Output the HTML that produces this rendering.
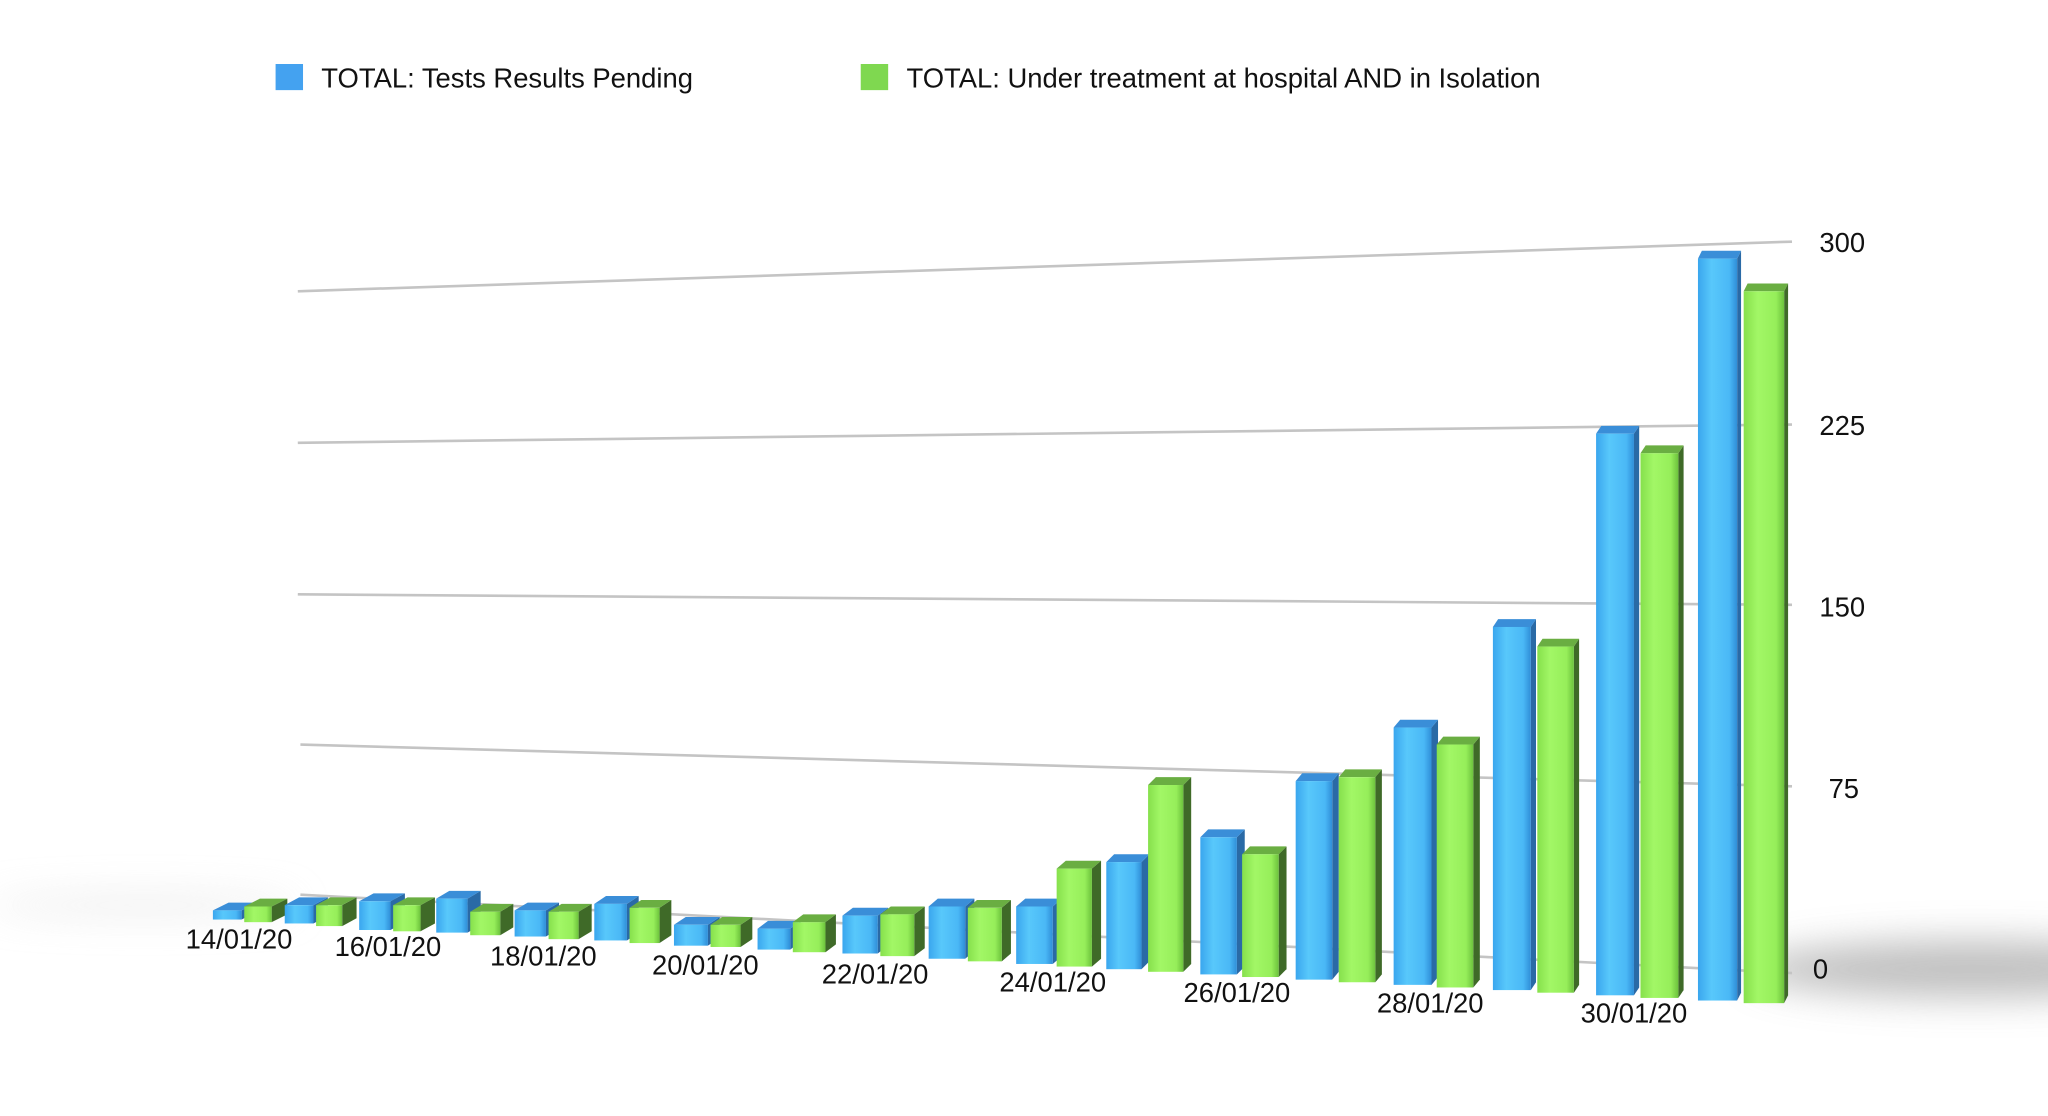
<!DOCTYPE html>
<html><head><meta charset="utf-8">
<style>
html,body{margin:0;padding:0;background:#fff;}
svg{display:block;}
text{font-family:"Liberation Sans",sans-serif;fill:#111;}
.bs{fill:#2a6aa6}.bt{fill:#3a8ed8}.bf{fill:url(#bfg)}
.gs{fill:#3f6a28}.gt{fill:#6aae42}.gf{fill:url(#gfg)}
</style></head>
<body>
<svg width="2048" height="1116" viewBox="0 0 1568 854.4" preserveAspectRatio="none" xmlns="http://www.w3.org/2000/svg">
<defs>
<linearGradient id="bfg" x1="0" x2="1" y1="0" y2="0">
<stop offset="0" stop-color="#3aa6ee"/><stop offset="0.35" stop-color="#58c8fb"/><stop offset="0.8" stop-color="#4ab8f6"/><stop offset="1" stop-color="#2f8ed8"/></linearGradient>
<linearGradient id="gfg" x1="0" x2="1" y1="0" y2="0">
<stop offset="0" stop-color="#86e04c"/><stop offset="0.35" stop-color="#a2f766"/><stop offset="0.8" stop-color="#96ee5a"/><stop offset="1" stop-color="#6cc23c"/></linearGradient>
<filter id="bl" x="-50%" y="-200%" width="200%" height="500%"><feGaussianBlur stdDeviation="14"/></filter>
</defs>
<ellipse cx="1510" cy="742" rx="170" ry="22" fill="#b0b0b0" filter="url(#bl)" opacity="0.8"/>
<ellipse cx="110" cy="693" rx="120" ry="8" fill="#e2e2e2" filter="url(#bl)" opacity="0.6"/>
<rect x="211" y="49" width="21" height="20" fill="#44a2f0"/>
<text x="246" y="67" font-size="21">TOTAL: Tests Results Pending</text>
<rect x="659" y="49" width="21" height="20" fill="#7fd850"/>
<text x="694" y="67" font-size="21">TOTAL: Under treatment at hospital AND in Isolation</text>
<g stroke="#c4c4c4" stroke-width="2">
<line x1="228" y1="223" x2="1372" y2="185"/>
<line x1="228" y1="339" x2="1372" y2="325"/>
<line x1="228" y1="455" x2="1372" y2="463"/>
<line x1="230" y1="570" x2="1372" y2="602"/>
<line x1="230" y1="685" x2="1372" y2="745"/>
</g>
<g font-size="21">
<text x="1393" y="193">300</text>
<text x="1393" y="333">225</text>
<text x="1393" y="472">150</text>
<text x="1400" y="611">75</text>
<text x="1388" y="749">0</text>
</g>
<g>
<polygon class="bs" points="185,697 197,691 197,698 185,704"/><polygon class="bt" points="163,697 175,691 197,691 185,697"/><rect class="bf" x="163" y="697" width="22" height="7"/>
<polygon class="gs" points="208,694 220,688 220,700 208,706"/><polygon class="gt" points="187,694 199,688 220,688 208,694"/><rect class="gf" x="187" y="694" width="21" height="12"/>
<polygon class="bs" points="240,693 251,687 251,701 240,707"/><polygon class="bt" points="218,693 229,687 251,687 240,693"/><rect class="bf" x="218" y="693" width="22" height="14"/>
<polygon class="gs" points="262,693 273,687 273,703 262,709"/><polygon class="gt" points="242,693 253,687 273,687 262,693"/><rect class="gf" x="242" y="693" width="20" height="16"/>
<polygon class="bs" points="299,690 310,684 310,706 299,712"/><polygon class="bt" points="275,690 286,684 310,684 299,690"/><rect class="bf" x="275" y="690" width="24" height="22"/>
<polygon class="gs" points="322,693 333,687 333,707 322,713"/><polygon class="gt" points="301,693 312,687 333,687 322,693"/><rect class="gf" x="301" y="693" width="21" height="20"/>
<polygon class="bs" points="358,688 368,682 368,708 358,714"/><polygon class="bt" points="334,688 344,682 368,682 358,688"/><rect class="bf" x="334" y="688" width="24" height="26"/>
<polygon class="gs" points="383,698 393,692 393,710 383,716"/><polygon class="gt" points="360,698 370,692 393,692 383,698"/><rect class="gf" x="360" y="698" width="23" height="18"/>
<polygon class="bs" points="418,697 428,691 428,711 418,717"/><polygon class="bt" points="394,697 404,691 428,691 418,697"/><rect class="bf" x="394" y="697" width="24" height="20"/>
<polygon class="gs" points="443,698 453,692 453,713 443,719"/><polygon class="gt" points="420,698 430,692 453,692 443,698"/><rect class="gf" x="420" y="698" width="23" height="21"/>
<polygon class="bs" points="480,692 489,686 489,714 480,720"/><polygon class="bt" points="455,692 464,686 489,686 480,692"/><rect class="bf" x="455" y="692" width="25" height="28"/>
<polygon class="gs" points="505,695 514,689 514,716 505,722"/><polygon class="gt" points="482,695 491,689 514,689 505,695"/><rect class="gf" x="482" y="695" width="23" height="27"/>
<polygon class="bs" points="542,708 551,702 551,718 542,724"/><polygon class="bt" points="516,708 525,702 551,702 542,708"/><rect class="bf" x="516" y="708" width="26" height="16"/>
<polygon class="gs" points="567,708 576,702 576,719 567,725"/><polygon class="gt" points="544,708 553,702 576,702 567,708"/><rect class="gf" x="544" y="708" width="23" height="17"/>
<polygon class="bs" points="605,711 613,705 613,721 605,727"/><polygon class="bt" points="580,711 588,705 613,705 605,711"/><rect class="bf" x="580" y="711" width="25" height="16"/>
<polygon class="gs" points="632,706 640,700 640,723 632,729"/><polygon class="gt" points="607,706 615,700 640,700 632,706"/><rect class="gf" x="607" y="706" width="25" height="23"/>
<polygon class="bs" points="672,701 680,695 680,724 672,730"/><polygon class="bt" points="645,701 653,695 680,695 672,701"/><rect class="bf" x="645" y="701" width="27" height="29"/>
<polygon class="gs" points="700,700 708,694 708,726 700,732"/><polygon class="gt" points="674,700 682,694 708,694 700,700"/><rect class="gf" x="674" y="700" width="26" height="32"/>
<polygon class="bs" points="739,694 746,688 746,728 739,734"/><polygon class="bt" points="711,694 718,688 746,688 739,694"/><rect class="bf" x="711" y="694" width="28" height="40"/>
<polygon class="gs" points="767,695 774,689 774,730 767,736"/><polygon class="gt" points="741,695 748,689 774,689 767,695"/><rect class="gf" x="741" y="695" width="26" height="41"/>
<polygon class="bs" points="806,694 813,688 813,732 806,738"/><polygon class="bt" points="778,694 785,688 813,688 806,694"/><rect class="bf" x="778" y="694" width="28" height="44"/>
<polygon class="gs" points="836,665 843,659 843,734 836,740"/><polygon class="gt" points="809,665 816,659 843,659 836,665"/><rect class="gf" x="809" y="665" width="27" height="75"/>
<polygon class="bs" points="874,660 880,654 880,736 874,742"/><polygon class="bt" points="847,660 853,654 880,654 874,660"/><rect class="bf" x="847" y="660" width="27" height="82"/>
<polygon class="gs" points="906,601 912,595 912,738 906,744"/><polygon class="gt" points="879,601 885,595 912,595 906,601"/><rect class="gf" x="879" y="601" width="27" height="143"/>
<polygon class="bs" points="947,641 953,635 953,740 947,746"/><polygon class="bt" points="919,641 925,635 953,635 947,641"/><rect class="bf" x="919" y="641" width="28" height="105"/>
<polygon class="gs" points="979,654 985,648 985,742 979,748"/><polygon class="gt" points="951,654 957,648 985,648 979,654"/><rect class="gf" x="951" y="654" width="28" height="94"/>
<polygon class="bs" points="1020,598 1025,592 1025,744 1020,750"/><polygon class="bt" points="992,598 997,592 1025,592 1020,598"/><rect class="bf" x="992" y="598" width="28" height="152"/>
<polygon class="gs" points="1053,595 1058,589 1058,746 1053,752"/><polygon class="gt" points="1025,595 1030,589 1058,589 1053,595"/><rect class="gf" x="1025" y="595" width="28" height="157"/>
<polygon class="bs" points="1096,557 1101,551 1101,748 1096,754"/><polygon class="bt" points="1067,557 1072,551 1101,551 1096,557"/><rect class="bf" x="1067" y="557" width="29" height="197"/>
<polygon class="gs" points="1128,570 1133,564 1133,750 1128,756"/><polygon class="gt" points="1100,570 1105,564 1133,564 1128,570"/><rect class="gf" x="1100" y="570" width="28" height="186"/>
<polygon class="bs" points="1172,480 1176,474 1176,752 1172,758"/><polygon class="bt" points="1143,480 1147,474 1176,474 1172,480"/><rect class="bf" x="1143" y="480" width="29" height="278"/>
<polygon class="gs" points="1205,495 1209,489 1209,754 1205,760"/><polygon class="gt" points="1177,495 1181,489 1209,489 1205,495"/><rect class="gf" x="1177" y="495" width="28" height="265"/>
<polygon class="bs" points="1251,332 1255,326 1255,756 1251,762"/><polygon class="bt" points="1222,332 1226,326 1255,326 1251,332"/><rect class="bf" x="1222" y="332" width="29" height="430"/>
<polygon class="gs" points="1285,347 1289,341 1289,758 1285,764"/><polygon class="gt" points="1256,347 1260,341 1289,341 1285,347"/><rect class="gf" x="1256" y="347" width="29" height="417"/>
<polygon class="bs" points="1330,198 1333,192 1333,760 1330,766"/><polygon class="bt" points="1300,198 1303,192 1333,192 1330,198"/><rect class="bf" x="1300" y="198" width="30" height="568"/>
<polygon class="gs" points="1366,223 1369,217 1369,762 1366,768"/><polygon class="gt" points="1335,223 1338,217 1369,217 1366,223"/><rect class="gf" x="1335" y="223" width="31" height="545"/>
</g>
<g font-size="21" text-anchor="middle">
<text x="183" y="726">14/01/20</text>
<text x="297" y="732">16/01/20</text>
<text x="416" y="739">18/01/20</text>
<text x="540" y="746">20/01/20</text>
<text x="670" y="753">22/01/20</text>
<text x="806" y="759">24/01/20</text>
<text x="947" y="767">26/01/20</text>
<text x="1095" y="775">28/01/20</text>
<text x="1251" y="783">30/01/20</text>
</g>
</svg>
</body></html>
